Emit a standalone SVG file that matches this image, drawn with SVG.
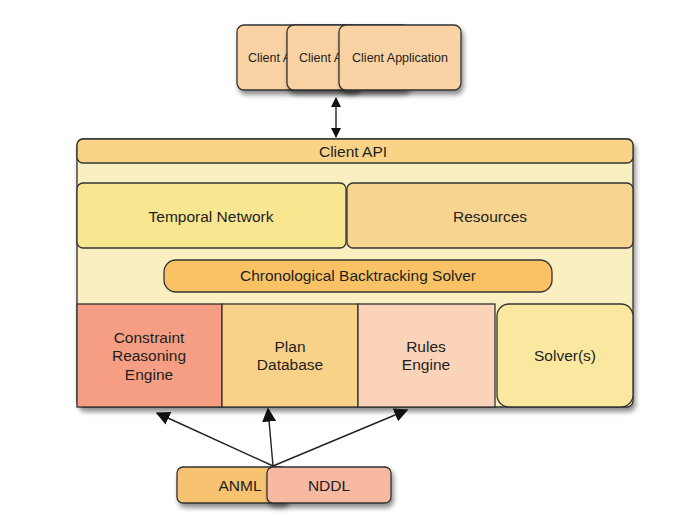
<svg xmlns="http://www.w3.org/2000/svg" width="681" height="516" viewBox="0 0 681 516">
<defs>
<filter id="sh" x="-10%" y="-10%" width="130%" height="140%">
<feDropShadow dx="2" dy="4" stdDeviation="2.5" flood-color="#000" flood-opacity="0.45"/>
</filter>
<marker id="ah" viewBox="0 0 10 10" refX="9" refY="5" markerWidth="10" markerHeight="10" markerUnits="userSpaceOnUse" orient="auto-start-reverse">
<path d="M0,0 L10,5 L0,10 z" fill="#111"/>
</marker>
<marker id="ah2" viewBox="0 0 10 10" refX="9" refY="5" markerWidth="14" markerHeight="14" markerUnits="userSpaceOnUse" orient="auto">
<path d="M0,0 L10,5 L0,10 z" fill="#111"/>
</marker>
<clipPath id="cp1"><rect x="237" y="25" width="50" height="65"/></clipPath>
<clipPath id="cp2"><rect x="287" y="25" width="52" height="65"/></clipPath>
</defs>
<style>
.b{stroke:#333;stroke-width:1.3}
.t{font-family:"Liberation Sans",Arial,sans-serif;font-size:15.5px;fill:#1e1e1e;text-anchor:middle}
.s{font-family:"Liberation Sans",Arial,sans-serif;font-size:12.5px;fill:#1e1e1e}
.c{stroke:#222;stroke-width:1.4;fill:none}
</style>
<rect width="681" height="516" fill="#fff"/>

<g id="client-app-1"><rect class="b" x="237" y="25" width="122" height="65" rx="7" fill="#FAD3A4" filter="url(#sh)"/><text class="s" x="248" y="62" clip-path="url(#cp1)">Client A</text></g>
<g id="client-app-2"><rect class="b" x="287" y="25" width="122" height="65" rx="7" fill="#FAD3A4" filter="url(#sh)"/><text class="s" x="299" y="62" clip-path="url(#cp2)">Client A</text></g>
<g id="client-app-3"><rect class="b" x="339" y="25" width="122" height="65" rx="7" fill="#FAD3A4" filter="url(#sh)"/><text class="s" x="400" y="62" text-anchor="middle">Client Application</text></g>

<g id="frame"><rect class="b" x="77" y="139" width="556" height="268" rx="6" fill="#F9EFC0" filter="url(#sh)"/></g>
<g id="client-api"><rect class="b" x="77" y="139" width="556" height="24" rx="6" fill="#F9D486"/><text class="t" x="353" y="157">Client API</text></g>
<g id="temporal-network"><rect class="b" x="77" y="183" width="269" height="65" rx="6" fill="#F8E690"/><text class="t" x="211" y="222">Temporal Network</text></g>
<g id="resources"><rect class="b" x="347" y="183" width="286" height="65" rx="6" fill="#F8D491"/><text class="t" x="490" y="222">Resources</text></g>
<g id="chrono-solver"><rect class="b" x="164" y="260" width="388" height="32" rx="12" fill="#F8C265"/><text class="t" x="358" y="281">Chronological Backtracking Solver</text></g>
<g id="constraint-engine"><rect class="b" x="77" y="304" width="145" height="103" fill="#F69E84"/><text class="t" x="149" y="343">Constraint</text><text class="t" x="149" y="361">Reasoning</text><text class="t" x="149" y="380">Engine</text></g>
<g id="plan-database"><rect class="b" x="222" y="304" width="136" height="103" fill="#F9D28A"/><text class="t" x="290" y="352">Plan</text><text class="t" x="290" y="370">Database</text></g>
<g id="rules-engine"><rect class="b" x="358" y="304" width="137" height="103" fill="#FAD3B8"/><text class="t" x="426" y="352">Rules</text><text class="t" x="426" y="370">Engine</text></g>
<g id="solvers"><rect class="b" x="497" y="304" width="136" height="103" rx="12" fill="#FAE8A0"/><text class="t" x="565" y="361">Solver(s)</text></g>

<g id="anml"><rect class="b" x="177" y="467" width="110" height="36" rx="6" fill="#F8C36F" filter="url(#sh)"/><text class="t" x="240" y="491">ANML</text></g>
<g id="nddl"><rect class="b" x="267" y="467" width="124" height="36" rx="6" fill="#F8B9A2" filter="url(#sh)"/><text class="t" x="329" y="491">NDDL</text></g>

<g id="connectors">
<line class="c" x1="336" y1="98" x2="336" y2="137" marker-start="url(#ah)" marker-end="url(#ah)"/>
<line class="c" x1="273" y1="466" x2="157" y2="413" marker-end="url(#ah2)"/>
<line class="c" x1="273" y1="466" x2="268" y2="409" marker-end="url(#ah2)"/>
<line class="c" x1="273" y1="466" x2="407" y2="410" marker-end="url(#ah2)"/>
</g>
</svg>
